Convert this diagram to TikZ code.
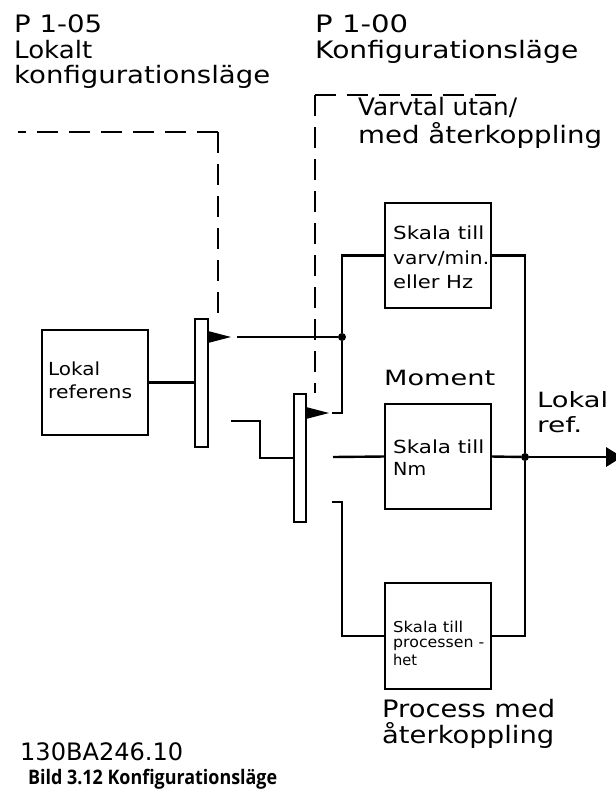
\documentclass[tikz,border=0pt]{standalone}
\usepackage{fontspec}
\usepackage{graphicx}
\setmainfont{DejaVu Sans}
\newfontfamily\capfont{Open Sans}
\newcommand\fw[2]{\resizebox{#1}{\height}{#2}}
\begin{document}
\begin{tikzpicture}[x=1pt,y=-1pt,
  blk/.style={draw, line width=2.4pt, minimum width=106pt, minimum height=105pt, inner sep=0pt, outer sep=0pt},
  swbar/.style={draw, line width=2.4pt, fill=white, minimum width=12pt, minimum height=128pt, inner sep=0pt, outer sep=0pt},
  lbl/.style={inner sep=0pt, anchor=base west, font=\fontsize{24}{28}\selectfont},
  smalllbl/.style={lbl, font=\fontsize{21}{24}\selectfont},
  btxt/.style={inner sep=0pt, anchor=base west, font=\fontsize{18}{20}\selectfont},
  stxt/.style={btxt, font=\fontsize{15}{17}\selectfont},
  caplbl/.style={inner sep=0pt, anchor=base west, font=\capfont\bfseries\fontsize{20}{22}\selectfont},
  ctrl/.style={line width=2.4pt, dash pattern=on 21pt off 11pt},
  wire/.style={line width=2.4pt},
  jdot/.style={circle, fill, inner sep=0pt, minimum size=8pt},
]
\useasboundingbox (0,0) rectangle (616,796);

% blocks
\node[blk] (lokal) at (95,382.5) {};
\node[swbar, minimum width=13pt] (sw1) at (201.5,383) {};
\node[swbar] (sw2) at (300,458) {};
\node[blk] (skv) at (438,255.5) {};
\node[blk] (skn) at (438,456.5) {};
\node[blk, minimum height=106pt] (skp) at (438,636) {};

% junctions and free ends
\node[jdot] (j1) at (342,337) {};
\node[jdot] (j2) at (525,457) {};
\coordinate (o1) at (237,337);
\coordinate (o2) at (332,413);
\coordinate (i1) at (231,421);
\coordinate (o3) at (333,457);
\coordinate (o4) at (332,502);
\coordinate (outa) at (606,457);
\coordinate (c1) at (218,132);
\coordinate (c1a) at (18,132);
\coordinate (c1b) at (218,318);
\coordinate (c2) at (315,95);
\coordinate (c2a) at (503,95);
\coordinate (c2b) at (315,393);

% wires
\draw[wire] (lokal.east) -- (lokal.east -| sw1.west);
\draw[wire] (o1) -- (j1);
\draw[wire] (j1) |- (skv.west);
\draw[wire] (o2) -| (j1);
\draw[wire] (i1) -- ++(29,0) |- (sw2.west);
\draw[wire] (o3) -- (skn.west);
\draw[wire] (o4) -- ++(10,0) |- (skp.west);
\draw[wire] (skv.east) -| (j2);
\draw[wire] (skp.east) -| (j2);
\draw[wire] (skn.east) -- (j2);
\draw[wire] (j2) -- (outa);
\fill (outa) ++(0,-10) -- ++(16,10) -- ++(-16,10) -- cycle;

% switch flags
\fill (sw1.east |- o1) ++(0,-6) -- ++(23,6) -- ++(-23,6) -- cycle;
\fill (sw2.east |- o2) ++(0,-6) -- ++(23,6) -- ++(-23,6) -- cycle;

% control (dashed) lines
\draw[ctrl] (c1) -- (c1a);
\draw[ctrl] (c1) -- (c1b);
\draw[ctrl] (c2) -- (c2a);
\draw[ctrl] (c2) -- (c2b);

% block texts
\node[btxt] at (48,375) {\fw{52pt}{Lokal}};
\node[btxt] at (48,398) {\fw{84pt}{referens}};
\node[btxt] at (393,239) {\fw{91pt}{Skala till}};
\node[btxt] at (393,264) {\fw{96pt}{varv/min.}};
\node[btxt] at (393,288) {\fw{80pt}{eller Hz}};
\node[btxt] at (393,453) {\fw{91pt}{Skala till}};
\node[btxt] at (393,475) {\fw{33pt}{Nm}};
\node[stxt] at (393,632) {\fw{70pt}{Skala till}};
\node[stxt] at (393,647) {\fw{91pt}{processen -}};
\node[stxt] at (393,665) {\fw{24pt}{het}};

% labels
\node[lbl] at (14,32) {\fw{88pt}{P 1-05}};
\node[lbl] at (14,58) {\fw{78pt}{Lokalt}};
\node[lbl] at (14,83) {\fw{256pt}{konfigurationsläge}};
\node[lbl] at (315,32) {\fw{93pt}{P 1-00}};
\node[lbl] at (315,58) {\fw{263pt}{Konfigurationsläge}};
\node[lbl] at (358,115) {\fw{159pt}{Varvtal utan/}};
\node[lbl] at (358,143) {\fw{244pt}{med återkoppling}};
\node[smalllbl] at (384,385) {\fw{111pt}{Moment}};
\node[smalllbl] at (537,407) {\fw{71pt}{Lokal}};
\node[smalllbl] at (537,432) {\fw{45pt}{ref.}};
\node[lbl] at (382,717) {\fw{173pt}{Process med}};
\node[lbl] at (382,743) {\fw{172pt}{återkoppling}};
\node[lbl] at (20,760) {\fw{163pt}{130BA246.10}};
\node[caplbl] at (28,784) {\fw{249pt}{Bild 3.12 Konfigurationsläge}};
\end{tikzpicture}
\end{document}
